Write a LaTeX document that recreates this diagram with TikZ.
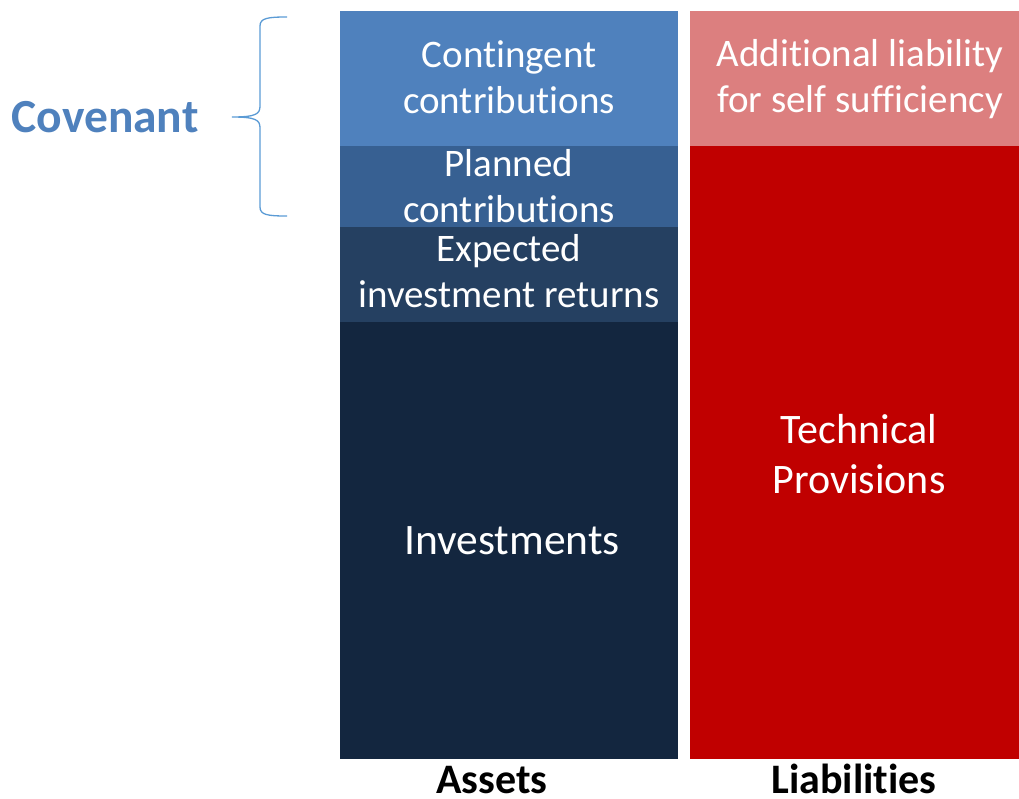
\documentclass[tikz,border=0pt]{standalone}
\usepackage{fontspec}
\setmainfont{Carlito}[Ligatures=NoCommon]
\definecolor{contc}{HTML}{4F81BD}
\definecolor{planc}{HTML}{376092}
\definecolor{expc}{HTML}{254061}
\definecolor{invc}{HTML}{13263F}
\definecolor{addc}{HTML}{DC7F7F}
\definecolor{techc}{HTML}{C00000}
\definecolor{bracec}{HTML}{5B9BD5}
\begin{document}
\begin{tikzpicture}[x=1pt,y=-1pt,
  lbl/.style={inner sep=0pt, text=white, align=center, anchor=base, font=\fontsize{39}{46}\selectfont},
  biglbl/.style={lbl, font=\fontsize{42}{50}\selectfont},
  axislbl/.style={inner sep=0pt, anchor=base, font=\fontsize{42}{46}\selectfont\bfseries},
  brace/.style={draw=bracec, line width=1.3pt}]
\useasboundingbox (0,0) rectangle (1019,798);
% asset column
\fill[contc] (340,11) rectangle (678,146);
\fill[planc] (340,146) rectangle (678,227);
\fill[expc] (340,227) rectangle (678,322);
\fill[invc] (340,322) rectangle (678,759);
% liability column
\fill[addc] (690,11) rectangle (1019,146);
\fill[techc] (690,146) rectangle (1019,759);
% labels (base = baseline of the last line)
\node[lbl] (cont) at (509,113) {Contingent\\contributions};
\node[lbl] (plan) at (509,222) {Planned\\contributions};
\node[lbl] (exp) at (509,307) {Expected\\investment returns};
\node[lbl, font=\fontsize{43.5}{46}\selectfont] (inv) at (512,554) {Investments};
\node[lbl] (add) at (860,112) {Additional liability\\for self sufficiency};
\node[biglbl] (tech) at (859,493) {Technical\\Provisions};
\node[axislbl] (assets) at (492,793) {Assets};
\node[axislbl] (liab) at (854,793) {Liabilities};
\node[inner sep=0pt, anchor=base, text=contc, font=\fontsize{47.5}{50}\selectfont\bfseries] (cov) at (105,132) {Covenant};
% brace
\draw[brace] (287,17) .. controls (268,17) and (260,18) .. (260,26) -- (260,106)
  .. controls (260,114) and (256,117) .. (232,117)
  .. controls (256,117) and (260,120) .. (260,128) -- (260,207)
  .. controls (260,215) and (268,216) .. (287,216);
\end{tikzpicture}
\end{document}
